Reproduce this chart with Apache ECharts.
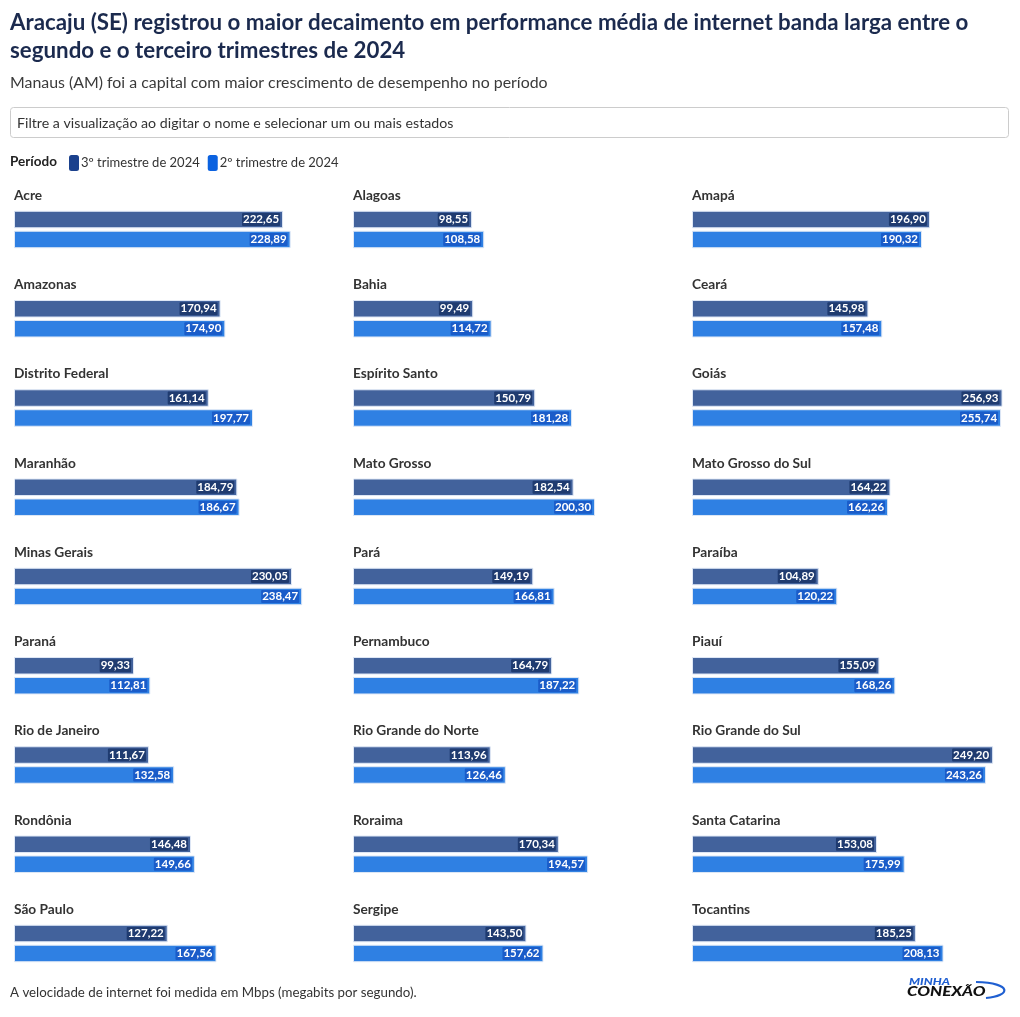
<!DOCTYPE html>
<html>
<head>
<meta charset="utf-8">
<script src="https://cdn.jsdelivr.net/npm/echarts@6/dist/echarts.min.js"></script>
<style>
html,body{margin:0;padding:0;background:#fff;}
#chart{width:1020px;height:1017px;}
</style>
</head>
<body>
<div id="chart"></div>
<script>
var states = ['Acre','Alagoas','Amapá','Amazonas','Bahia','Ceará','Distrito Federal','Espírito Santo','Goiás','Maranhão','Mato Grosso','Mato Grosso do Sul','Minas Gerais','Pará','Paraíba','Paraná','Pernambuco','Piauí','Rio de Janeiro','Rio Grande do Norte','Rio Grande do Sul','Rondônia','Roraima','Santa Catarina','São Paulo','Sergipe','Tocantins'];
var q3 = [222.65,98.55,196.90,170.94,99.49,145.98,161.14,150.79,256.93,184.79,182.54,164.22,230.05,149.19,104.89,99.33,164.79,155.09,111.67,113.96,249.20,146.48,170.34,153.08,127.22,143.50,185.25];
var q2 = [228.89,108.58,190.32,174.90,114.72,157.48,197.77,181.28,255.74,186.67,200.30,162.26,238.47,166.81,120.22,112.81,187.22,168.26,132.58,126.46,243.26,149.66,194.57,175.99,167.56,157.62,208.13];
var seriesNames = ['3º trimestre de 2024','2º trimestre de 2024'];

var FONT = 'Lato, "Noto Sans", sans-serif';
var barColors = ['#42629c','#2f80e3'];
var haloColors = ['#1f3b70','#1a5cc9'];
var legendColors = ['#1b418d','#0b62e0'];
var maxVal = Math.max.apply(null, q3.concat(q2));

var grids = [], xAxes = [], yAxes = [], series = [], graphics = [];
function fmt(v){ return v.toFixed(2).replace('.', ','); }

states.forEach(function(name, i){
  var c = i % 3, r = Math.floor(i / 3);
  var left = 14 + c * 339, top = 210.5 + r * 89.25;
  grids.push({left: left, top: top, width: 310.5, height: 38, containLabel: false});
  xAxes.push({type: 'value', gridIndex: i, min: 0, max: maxVal, show: false});
  yAxes.push({type: 'category', gridIndex: i, data: [name], inverse: true, show: false});
  [q3, q2].forEach(function(arr, k){
    series.push({
      type: 'bar', name: seriesNames[k], xAxisIndex: i, yAxisIndex: i,
      data: [arr[i]], barWidth: 17.5, barGap: '14%',
      itemStyle: {color: barColors[k], borderColor: '#dfe8f6', borderWidth: 1},
      label: {
        show: true, position: 'insideRight', distance: 3,
        formatter: function(p){ return fmt(p.value); },
        color: '#fff', fontFamily: FONT, fontWeight: 'bold', fontSize: 11.5,
        backgroundColor: haloColors[k], padding: [1, 1, 0, 1], borderRadius: 1
      },
      silent: true, animation: false
    });
  });
  graphics.push({type: 'text', left: left, top: top - 22, style: {text: name, font: 'bold 13.7px ' + FONT, fill: '#333'}});
});

graphics.push(
  {type: 'text', left: 10, top: 9, style: {text: 'Aracaju (SE) registrou o maior decaimento em performance média de internet banda larga entre o\nsegundo e o terceiro trimestres de 2024', font: 'bold 22.3px ' + FONT, fill: '#1b2a4e', lineHeight: 28}},
  {type: 'text', left: 10, top: 75, style: {text: 'Manaus (AM) foi a capital com maior crescimento de desempenho no período', font: '15.9px ' + FONT, fill: '#3a3a3a'}},
  {type: 'rect', shape: {x: 10.5, y: 107.5, width: 998, height: 30, r: 3}, style: {fill: '#fff', stroke: '#cccccc', lineWidth: 1}},
  {type: 'text', left: 17, top: 116, style: {text: 'Filtre a visualização ao digitar o nome e selecionar um ou mais estados', font: '14.2px ' + FONT, fill: '#333'}},
  {type: 'text', left: 10, top: 155, style: {text: 'Período', font: 'bold 13.5px ' + FONT, fill: '#222'}},
  {type: 'text', left: 10, top: 986, style: {text: 'A velocidade de internet foi medida em Mbps (megabits por segundo).', font: '13.3px ' + FONT, fill: '#333'}},
  {type: 'text', x: 909, y: 977, scaleX: 1.25, style: {text: 'MINHA', font: 'italic 900 10px ' + FONT, fill: '#1f5fd1'}},
  {type: 'text', x: 907, y: 985, scaleX: 1.3, style: {text: 'CONEXÃO', font: 'italic 900 13px ' + FONT, fill: '#111'}},
  {type: 'bezierCurve', shape: {x1: 986, y1: 998, cpx1: 1011, cpy1: 996, cpx2: 1013, cpy2: 983, x2: 976, y2: 982}, style: {stroke: '#1f5fd1', lineWidth: 2.2, fill: 'none'}}
);

var chart = echarts.init(document.getElementById('chart'), null, {renderer: 'canvas'});
chart.setOption({
  animation: false,
  grid: grids, xAxis: xAxes, yAxis: yAxes, series: series,
  legend: {
    left: 64, top: 150, itemGap: 8, itemWidth: 10, itemHeight: 16, icon: 'roundRect',
    selectedMode: false,
    itemStyle: {borderWidth: 0},
    textStyle: {fontFamily: FONT, fontSize: 13, color: '#333', padding: [0, 0, 0, -3]},
    data: seriesNames.map(function(n, k){ return {name: n, itemStyle: {color: legendColors[k], borderWidth: 0}}; })
  },
  graphic: graphics
});
</script>
</body>
</html>
